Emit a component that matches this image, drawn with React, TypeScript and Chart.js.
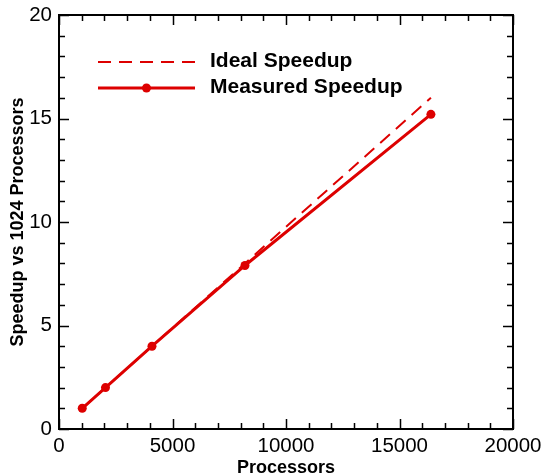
import React, { useEffect, useRef } from "react";
import { Chart, registerables } from "chart.js";

Chart.register(...registerables);

const processors = [1024, 2048, 4096, 8192, 16384];
const idealSpeedup = [1, 2, 4, 8, 16];
const measuredSpeedup = [1, 2, 4, 7.9, 15.2];
const seriesNames = ["Ideal Speedup", "Measured Speedup"];
const xTitle = "Processors";
const yTitle = "Speedup vs 1024 Processors";

const RED = "rgb(221,0,0)";
const FONT = "'Liberation Sans', Arial, Helvetica, sans-serif";

const framePlugin = {
  id: "frameTicks",
  afterDraw(chart: any) {
    const { ctx, chartArea, scales } = chart;
    const { left, right, top, bottom } = chartArea;
    const xs = scales.x;
    const ys = scales.y;
    ctx.save();
    ctx.strokeStyle = "#000";
    ctx.lineWidth = 1.5;
    const xStep = 1000;
    for (let v = xs.min; v <= xs.max + 1e-6; v += xStep) {
      const len = Math.abs(v % 5000) < 1e-6 ? 10 : 6;
      const px = Math.round(xs.getPixelForValue(v)) + 0.5;
      ctx.beginPath();
      ctx.moveTo(px, bottom);
      ctx.lineTo(px, bottom - len);
      ctx.moveTo(px, top);
      ctx.lineTo(px, top + len);
      ctx.stroke();
    }
    const yStep = 1;
    for (let v = ys.min; v <= ys.max + 1e-6; v += yStep) {
      const len = Math.abs(v % 5) < 1e-6 ? 10 : 6;
      const py = Math.round(ys.getPixelForValue(v)) + 0.5;
      ctx.beginPath();
      ctx.moveTo(left, py);
      ctx.lineTo(left + len, py);
      ctx.moveTo(right, py);
      ctx.lineTo(right - len, py);
      ctx.stroke();
    }
    ctx.lineWidth = 2;
    ctx.strokeRect(left, top, right - left, bottom - top);

    // legend
    const ds = chart.data.datasets;
    const lx0 = left + 39;
    const lx1 = left + 136;
    const tx = left + 151;
    const rows = [top + 47, top + 73];
    ds.forEach((d: any, i: number) => {
      const y = rows[i];
      ctx.strokeStyle = d.borderColor;
      ctx.lineWidth = d.borderWidth;
      ctx.setLineDash(d.borderDash || []);
      ctx.beginPath();
      ctx.moveTo(lx0, y);
      ctx.lineTo(lx1, y);
      ctx.stroke();
      ctx.setLineDash([]);
      if (d.pointRadius > 0) {
        ctx.fillStyle = d.pointBackgroundColor;
        ctx.beginPath();
        ctx.arc((lx0 + lx1) / 2, y, d.pointRadius, 0, Math.PI * 2);
        ctx.fill();
      }
      ctx.fillStyle = "#000";
      ctx.font = `bold 21px ${FONT}`;
      ctx.textAlign = "left";
      ctx.textBaseline = "middle";
      ctx.fillText(d.label, tx, y - 1);
    });
    ctx.restore();
  },
};

export default function App() {
  const ref = useRef<HTMLCanvasElement>(null);
  useEffect(() => {
    document.body.style.margin = "0";
    const canvas = ref.current;
    if (!canvas) return;
    const chart = new Chart(canvas, {
      type: "line",
      data: {
        datasets: [
          {
            label: seriesNames[0],
            data: processors.map((p, i) => ({ x: p, y: idealSpeedup[i] })),
            borderColor: RED,
            backgroundColor: RED,
            borderWidth: 2,
            borderDash: [13, 8],
            pointRadius: 0,
            pointBackgroundColor: RED,
            fill: false,
            tension: 0,
            order: 2,
          },
          {
            label: seriesNames[1],
            data: processors.map((p, i) => ({ x: p, y: measuredSpeedup[i] })),
            borderColor: RED,
            backgroundColor: RED,
            borderWidth: 3,
            pointRadius: 4.5,
            pointBackgroundColor: RED,
            pointBorderWidth: 0,
            fill: false,
            tension: 0,
            order: 1,
          },
        ],
      },
      options: {
        responsive: false,
        animation: false,
        layout: { padding: { top: 15, right: 32, left: 0, bottom: 0 } },
        plugins: { legend: { display: false }, tooltip: { enabled: false } },
        scales: {
          x: {
            type: "linear",
            min: 0,
            max: 20000,
            grid: { display: false, drawTicks: false },
            border: { display: false },
            ticks: {
              stepSize: 5000,
              padding: 5,
              color: "#000",
              font: { family: FONT, size: 20.5 },
              maxRotation: 0,
              callback: (v: any) => String(v),
            },
            title: {
              display: true,
              text: xTitle,
              color: "#000",
              font: { family: FONT, size: 18, weight: "bold" },
              padding: { top: 0, bottom: -4 },
            },
            afterFit(scale: any) {
              scale.height = 46;
              scale.paddingLeft = 0;
              scale.paddingRight = 0;
            },
          },
          y: {
            type: "linear",
            min: 0,
            max: 20,
            grid: { display: false, drawTicks: false },
            border: { display: false },
            ticks: {
              stepSize: 5,
              padding: 7,
              color: "#000",
              font: { family: FONT, size: 20.5 },
              callback: (v: any) => String(v),
            },
            title: {
              display: true,
              text: yTitle,
              color: "#000",
              font: { family: FONT, size: 18, weight: "bold" },
              padding: { top: 7, bottom: 0 },
            },
            afterFit(scale: any) {
              scale.width = 59;
              scale.paddingTop = 0;
              scale.paddingBottom = 0;
            },
          },
        },
      },
      plugins: [framePlugin],
    });
    return () => chart.destroy();
  }, []);
  return <canvas ref={ref} width={545} height={475} style={{ display: "block" }} />;
}
